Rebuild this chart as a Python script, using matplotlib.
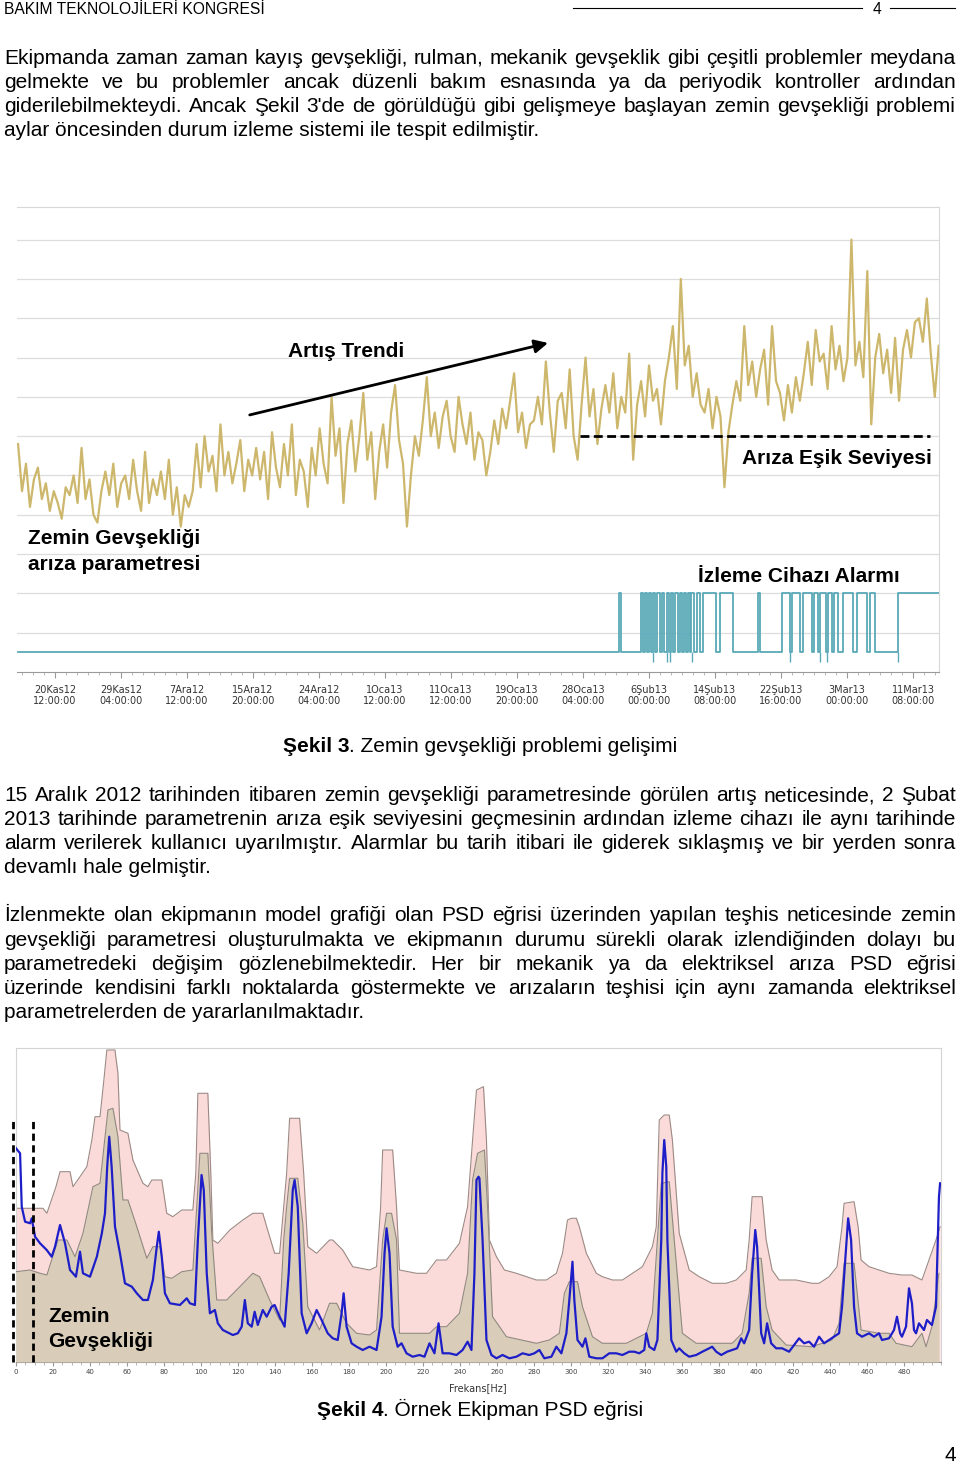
import matplotlib
matplotlib.use("Agg")
import matplotlib.pyplot as plt
from matplotlib.lines import Line2D
from matplotlib.ticker import MultipleLocator
import numpy as np

W, H = 960, 1464

# ---------------- data: Şekil 3 (trend of the loosening parameter) ----------------
trend = [
    5.8, 4.6, 5.3, 4.2, 4.9, 5.2, 4.4, 4.8, 4.1, 4.6,
    4.3, 3.9, 4.7, 4.5, 5.0, 4.3, 5.7, 4.4, 4.9, 4.0,
    3.8, 4.6, 5.1, 4.5, 5.3, 4.2, 4.8, 5.0, 4.4, 5.4,
    4.6, 4.1, 5.6, 4.3, 4.9, 4.5, 5.1, 4.4, 5.4, 4.0,
    4.7, 3.7, 4.5, 4.2, 4.6,
    5.8, 4.7, 6.0, 5.1, 5.5, 4.6, 6.3, 5.0, 5.6, 4.8, 5.3, 5.9, 4.6, 5.4, 5.0, 5.7,
    4.9, 5.6, 4.4, 6.1, 5.2, 4.7, 5.8, 5.0, 6.3, 4.5, 5.4, 5.1, 4.2, 5.7, 5.0, 6.2, 5.3, 4.8,
    7.0, 5.5, 6.2, 4.3, 5.8, 6.4, 5.1, 6.0, 7.1, 5.4, 6.1, 4.4, 5.6, 6.3, 5.2, 6.6, 7.3, 5.9,
    5.3, 3.7, 5.0, 6.0, 5.5, 6.4, 7.5, 6.0,
    6.6, 5.7, 6.5, 6.9, 6.0, 5.6, 7.0, 6.3, 5.8, 6.6, 5.4, 6.1,
    5.9, 5.0, 5.6, 6.4, 5.8, 6.7, 6.2, 6.9, 7.6, 6.1, 6.6, 5.7, 6.3,
    6.4, 7.0, 6.3, 7.9, 6.6, 5.6, 6.9, 7.1, 6.2, 7.7, 6.0, 5.4, 6.8, 8.0, 6.5, 7.2, 5.8, 6.7,
    7.3, 6.6, 7.6, 6.2, 7.0, 6.6, 8.1, 5.4, 6.8, 7.4, 6.5, 7.8, 6.9, 7.2, 6.3,
    7.4, 8.0, 8.8, 7.2, 10.0, 7.8, 8.3, 7.0, 7.6, 6.8,
    6.6, 7.2, 6.2, 7.0, 6.5, 4.7, 6.1, 6.8, 7.4, 6.9,
    8.8, 7.3, 7.9, 7.0, 7.7, 8.2, 6.8, 8.8, 7.4, 7.1,
    6.4, 7.3, 6.6, 7.5, 6.9,
    7.6, 8.4, 7.3, 8.7, 7.9, 8.1, 7.2, 8.8, 7.7, 8.3, 7.4, 8.0,
    11.0, 7.8, 8.4, 7.5, 10.2, 6.3, 8.0, 8.6, 7.6, 8.2, 7.1, 8.5,
    6.9, 8.2, 8.7, 8.0, 8.9, 9.0, 8.4, 9.5, 8.1, 7.0, 8.3,
]
trend_start, trend_end = -0.56, 13.39   # in date-tick units

# alarm "on" periods (date-tick units)
alarm_on = [(8.55, 8.58), (8.88, 8.91), (8.94, 8.97), (9.00, 9.03), (9.06, 9.09),
            (9.12, 9.17), (9.20, 9.23), (9.27, 9.30), (9.33, 9.36), (9.39, 9.44),
            (9.47, 9.50), (9.53, 9.56), (9.59, 9.62), (9.64, 9.68), (9.73, 9.77),
            (9.82, 10.02), (10.08, 10.27), (10.65, 10.68), (11.02, 11.14),
            (11.17, 11.29), (11.33, 11.47), (11.50, 11.56), (11.59, 11.68),
            (11.71, 11.77), (11.80, 11.86), (11.94, 12.09), (12.15, 12.30),
            (12.35, 12.42), (12.77, 13.39)]
alarm_dips = [9.06, 9.27, 9.32, 9.65, 11.14, 11.59, 11.70, 12.77]
alarm_low, alarm_high, alarm_dip = 0.5, 2.0, 0.25
threshold = 6.0

date_labels = ["20Kas12\n12:00:00", "29Kas12\n04:00:00", "7Ara12\n12:00:00",
               "15Ara12\n20:00:00", "24Ara12\n04:00:00", "1Oca13\n12:00:00",
               "11Oca13\n12:00:00", "19Oca13\n20:00:00", "28Oca13\n04:00:00",
               "6Şub13\n00:00:00", "14Şub13\n08:00:00", "22Şub13\n16:00:00",
               "3Mar13\n00:00:00", "11Mar13\n08:00:00"]

# ---------------- data: Şekil 4 (PSD) ----------------
upper_env = [(0, 153.7), (14.6, 153.7), (16.7, 148.7), (21.6, 175.3), (23.8, 190.3), (29.2, 190.3),
             (30.8, 175.3), (34.6, 185.3), (38.3, 195.3), (41.0, 222), (42.7, 245.3), (45.4, 245.3),
             (47.5, 282), (49.1, 312), (53.5, 312), (55.1, 288.7), (56.2, 232), (60.5, 228.7),
             (63.2, 202), (68.6, 178.7), (71.3, 175.3), (73.4, 182), (78.8, 182), (81.5, 148.7),
             (84.8, 145.3), (89.6, 152), (95.6, 152), (97.2, 188.7), (98.3, 268.7), (103.7, 268.7),
             (105.3, 188.7), (106.4, 122), (109.1, 118.7), (115.6, 132), (122.6, 142), (128.0, 148.7),
             (133.4, 148.7), (135.5, 135.3), (139.8, 108.7), (142.5, 108.7), (146.3, 188.7),
             (147.9, 243.7), (153.3, 243.7), (155.5, 188.7), (157.7, 115.3), (162.5, 108.7),
             (169.5, 122), (171.2, 122), (176.6, 112), (182.0, 95.3), (191.1, 92), (194.9, 95.3),
             (197.1, 155.3), (198.2, 212), (203.6, 212), (205.7, 155.3), (207.3, 92), (216.5, 88.7),
             (221.9, 88.7), (227.3, 102), (232.7, 102), (239.7, 118.7), (244.1, 155.3), (246.8, 222),
             (248.9, 272), (252.7, 275.3), (254.3, 222), (255.9, 122), (259.7, 105.3), (264.0, 92),
             (270.5, 88.7), (281.3, 82), (286.7, 82), (292.1, 88.7), (295.4, 108.7), (298.1, 142),
             (300.2, 143.7), (302.9, 143.7), (304.5, 135.3), (308.3, 108.7), (313.7, 88.7),
             (317.0, 85.3), (322.4, 82), (327.8, 82), (333.2, 88.7), (338.6, 95.3), (344.0, 115.3),
             (346.1, 135.3), (347.7, 242), (350.4, 247), (353.1, 247), (354.8, 222), (358.5, 128.7),
             (363.9, 92), (369.3, 85.3), (376.3, 78.7), (383.9, 78.7), (389.3, 82), (394.7, 92),
             (396.3, 122), (397.9, 165.3), (403.3, 165.3), (405.5, 122), (408.7, 92), (412.5, 82),
             (421.7, 82), (430.3, 78.7), (434.1, 78.7), (439.5, 85.3), (443.8, 95.3), (446.5, 135.3),
             (447.6, 158.7), (453.0, 160.3), (455.2, 135.3), (456.8, 102), (461.1, 95.3),
             (471.9, 88.7), (478.9, 87), (484.3, 87), (489.7, 82), (493.5, 102), (497.3, 122),
             (499.5, 135.3)]

lower_env = [(0, 90.3), (7.6, 92), (13.0, 88.7), (16.7, 87), (22.7, 122), (27.5, 122), (31.9, 105.3),
             (36.2, 128.7), (41.6, 175.3), (45.4, 178.7), (49.7, 252), (52.4, 253.7), (55.1, 225.3),
             (57.8, 162), (60.5, 162), (65.3, 135.3), (70.7, 103.7), (74.0, 115.3), (77.8, 115.3),
             (80.5, 85.3), (84.2, 83.7), (89.6, 90.3), (95.6, 92), (97.7, 155.3), (99.4, 208.7),
             (103.7, 208.7), (105.8, 128.7), (108.5, 62), (113.9, 62), (121.0, 75.3), (128.0, 88.7),
             (131.7, 85.3), (137.1, 62), (142.5, 42), (144.7, 122), (146.3, 155.3), (147.9, 183.7),
             (152.3, 183.7), (155.0, 138.7), (157.7, 55.3), (164.1, 32), (169.5, 58.7), (173.3, 58.7),
             (178.7, 38.7), (184.1, 28.7), (191.1, 27), (194.9, 32), (198.2, 122), (200.3, 148.7),
             (203.0, 148.7), (205.7, 122), (207.3, 28.7), (223.5, 28.7), (227.3, 35.3), (232.7, 35.3),
             (239.7, 48.7), (244.1, 88.7), (246.8, 182), (249.5, 208.7), (253.2, 212), (254.9, 155.3),
             (257.6, 45.3), (265.1, 25.3), (281.3, 18.7), (288.3, 22), (293.7, 28.7), (296.4, 68.7),
             (299.1, 80.3), (303.5, 80.3), (306.2, 55.3), (311.6, 25.3), (317.0, 18.7), (329.9, 18.7),
             (340.7, 28.7), (344.0, 48.7), (346.7, 122), (348.8, 178.7), (353.1, 180.3), (355.8, 122),
             (360.2, 28.7), (367.7, 18.7), (387.1, 18.7), (392.5, 28.7), (396.3, 68.7), (397.9, 103.7),
             (402.8, 103.7), (405.5, 55.3), (408.7, 32), (416.3, 17), (430.3, 15.3), (441.1, 22),
             (444.9, 38.7), (447.6, 98.7), (453.0, 98.7), (456.8, 32), (466.5, 28.7), (471.9, 28.7),
             (475.7, 18.7), (484.3, 15.3), (489.7, 28.7), (491.9, 15.3), (495.1, 35.3), (498.9, 88.7)]

psd_curve = [(0, 213.7), (2.2, 208.7), (3.1, 155.3), (4.9, 140.3), (7.6, 138.7), (8.5, 143.7),
             (10.3, 125.3), (13.0, 118.7), (16.6, 112), (19.3, 105.3), (21.1, 115.3), (23.8, 137),
             (26.5, 118.7), (29.2, 92), (32.4, 85.3), (34.6, 110.3), (36.2, 88.7), (40.0, 85.3),
             (43.7, 105.3), (46.4, 128.7), (48.1, 148.7), (49.3, 195.3), (50.4, 225.3), (51.7, 195.3),
             (53.5, 135.3), (56.2, 108.7), (58.9, 78.7), (62.6, 75.3), (65.3, 68.7), (68.6, 62),
             (71.3, 62), (74.0, 82), (76.1, 115.3), (77.2, 130.3), (78.8, 105.3), (80.5, 68.7),
             (83.2, 58.7), (88.6, 57), (92.3, 63.7), (94.0, 58.7), (96.7, 57), (98.3, 122),
             (100.3, 187), (101.5, 172), (103.1, 88.7), (104.8, 48.7), (107.5, 52), (109.1, 38.7),
             (111.8, 32), (117.2, 27), (119.9, 28.7), (122.0, 35.3), (123.7, 62), (125.3, 38.7),
             (127.4, 35.3), (129.0, 50.3), (130.7, 37), (133.4, 52), (135.5, 45.3), (138.2, 55.3),
             (139.8, 57), (142.5, 45.3), (145.2, 35.3), (147.4, 88.7), (149.6, 172), (150.6, 182),
             (152.3, 155.3), (154.4, 48.7), (157.1, 28.7), (159.8, 38.7), (162.5, 52), (165.2, 42),
             (168.5, 28.7), (171.2, 23.7), (173.9, 22), (176.0, 48.7), (177.1, 68.7), (178.7, 35.3),
             (181.4, 18.7), (184.1, 15.3), (187.4, 12), (191.1, 15.3), (194.9, 12), (197.6, 45.3),
             (199.2, 108.7), (200.3, 133.7), (201.9, 108.7), (203.6, 35.3), (206.3, 15.3), (208.4, 18.7),
             (211.1, 8.7), (214.4, 5.3), (218.1, 7), (220.8, 5.3), (223.5, 18.7), (226.2, 8.7),
             (228.4, 38.7), (230.6, 8.7), (234.3, 8.7), (238.1, 7), (241.4, 12), (244.1, 20.3),
             (246.2, 12), (247.8, 88.7), (248.9, 182), (250.0, 185.3), (250.5, 183.7), (252.2, 122),
             (254.3, 22), (257.0, 7), (259.7, 3.7), (263.0, 7), (266.7, 3.7), (270.5, 5.3), (273.8, 8.7),
             (277.5, 7), (280.2, 8.7), (282.9, 12), (285.6, 3.7), (289.4, 5.3), (292.1, 15.3),
             (294.8, 8.7), (297.5, 28.7), (299.1, 62), (300.8, 100.3), (301.8, 62), (303.5, 22),
             (306.2, 15.3), (307.8, 23.7), (309.9, 5.3), (313.7, 3.7), (317.0, 3.7), (320.7, 8.7),
             (324.5, 8.7), (327.8, 7), (331.5, 10.3), (334.2, 10.3), (336.9, 8.7), (339.6, 12),
             (340.7, 28.7), (342.3, 15.3), (345.0, 12), (346.7, 22), (348.8, 122), (349.4, 188.7),
             (350.4, 222), (351.5, 195.3), (352.1, 122), (354.2, 22), (356.9, 10.3), (358.5, 13.7),
             (361.2, 8.7), (363.9, 5.3), (367.7, 7), (371.0, 10.3), (374.7, 13.7), (376.3, 15.3),
             (378.5, 10.3), (381.2, 7), (384.4, 10.3), (387.1, 12), (389.8, 13.7), (392.0, 23.7),
             (393.6, 18.7), (396.3, 32), (397.9, 88.7), (399.6, 132), (400.6, 115.3), (402.8, 28.7),
             (404.4, 18.7), (406.0, 38.7), (408.2, 18.7), (410.9, 13.7), (414.1, 13.7), (417.9, 10.3),
             (420.6, 17), (423.3, 23.7), (426.0, 18.7), (428.7, 20.3), (431.4, 15.3), (434.1, 25.3),
             (436.8, 18.7), (439.5, 22), (442.2, 25.3), (444.9, 28.7), (446.5, 55.3), (448.7, 115.3),
             (449.8, 143.7), (451.4, 122), (453.0, 55.3), (454.6, 28.7), (457.3, 25.3), (461.1, 28.7),
             (463.8, 25.3), (466.5, 28.7), (468.1, 22), (471.9, 23.7), (474.6, 32), (476.2, 45.3),
             (477.9, 28.7), (478.9, 25.3), (481.1, 35.3), (482.7, 73.7), (484.3, 58.7), (485.4, 32),
             (486.5, 28.7), (488.1, 38.7), (490.8, 32), (492.4, 42), (495.1, 37), (497.3, 55.3),
             (498.9, 165.3), (499.5, 178.7)]
loosening_band = (-1.6, 9.2)   # Hz, marked with dashed lines
band_height = 242

# ---------------- page text ----------------
header = "BAKIM TEKNOLOJİLERİ KONGRESİ"
para1 = ["Ekipmanda zaman zaman kayış gevşekliği, rulman, mekanik gevşeklik gibi çeşitli problemler meydana",
         "gelmekte ve bu problemler ancak düzenli bakım esnasında ya da periyodik kontroller ardından",
         "giderilebilmekteydi. Ancak Şekil 3'de de görüldüğü gibi gelişmeye başlayan zemin gevşekliği problemi",
         "aylar öncesinden durum izleme sistemi ile tespit edilmiştir."]
para2 = ["15 Aralık 2012 tarihinden itibaren zemin gevşekliği parametresinde görülen artış neticesinde, 2 Şubat",
         "2013 tarihinde parametrenin arıza eşik seviyesini geçmesinin ardından izleme cihazı ile aynı tarihinde",
         "alarm verilerek kullanıcı uyarılmıştır. Alarmlar bu tarih itibari ile giderek sıklaşmış ve bir yerden sonra",
         "devamlı hale gelmiştir."]
para3 = ["İzlenmekte olan ekipmanın model grafiği olan PSD eğrisi üzerinden yapılan teşhis neticesinde zemin",
         "gevşekliği parametresi oluşturulmakta ve ekipmanın durumu sürekli olarak izlendiğinden dolayı bu",
         "parametredeki değişim gözlenebilmektedir. Her bir mekanik ya da elektriksel arıza PSD eğrisi",
         "üzerinde kendisini farklı noktalarda göstermekte ve arızaların teşhisi için aynı zamanda elektriksel",
         "parametrelerden de yararlanılmaktadır."]

plt.rcParams['font.family'] = ['Liberation Sans', 'DejaVu Sans']
fig = plt.figure(figsize=(9.6, 14.64), dpi=100)
renderer = fig.canvas.get_renderer()


def fx(x):
    return x / W


def fy(y):
    return 1 - y / H


def text_w(s, **kw):
    t = fig.text(0, 0, s, **kw)
    w = t.get_window_extent(renderer).width
    t.remove()
    return w


fs = 10 * 538 / text_w(para1[-1], fontsize=10)


def put_line(s, y, justify=True, x0=4, x1=956):
    if not justify:
        fig.text(fx(x0), fy(y + 6), s, fontsize=fs, va='baseline')
        return
    words = s.split(' ')
    widths = [text_w(w, fontsize=fs) for w in words]
    gap = (x1 - x0 - sum(widths)) / (len(words) - 1)
    x = x0
    for w, wd in zip(words, widths):
        fig.text(fx(x), fy(y + 6), w, fontsize=fs, va='baseline')
        x += wd + gap


def mixed(parts, cx, y):
    widths = [text_w(s, fontsize=fs, fontweight=wt) for s, wt in parts]
    x = cx - sum(widths) / 2
    for (s, wt), wd in zip(parts, widths):
        fig.text(fx(x), fy(y + 6), s, fontsize=fs, fontweight=wt, va='baseline')
        x += wd


# header
hfam = ['Liberation Sans Narrow', 'Liberation Sans']
hs = 10 * 261 / text_w(header, fontsize=10, family=hfam)
fig.text(fx(4), fy(14), header, fontsize=hs, family=hfam, va='baseline')
fig.add_artist(Line2D([fx(573), fx(862)], [fy(8), fy(8)], color='black', lw=0.8))
fig.add_artist(Line2D([fx(890), fx(955)], [fy(8), fy(8)], color='black', lw=0.8))
fig.text(fx(877), fy(14), "4", fontsize=hs, va='baseline', ha='center')

# paragraphs
for lines, ys in [(para1, [58, 82, 106, 130]),
                  (para2, [795, 819, 843, 867]),
                  (para3, [915, 940, 964, 988, 1012])]:
    for i, (s, y) in enumerate(zip(lines, ys)):
        put_line(s, y, justify=(i < len(lines) - 1))

# ---------------- Şekil 3 ----------------
ax1 = fig.add_axes([fx(17), fy(672), (939 - 17) / W, (672 - 207) / H])
ax1.set_xlim(-0.576, 13.394)
ax1.set_ylim(0, 11.83)
for g in range(1, 12):
    ax1.axhline(g, color='#dddddd', lw=0.9, zorder=0)
for side in ['top', 'right']:
    ax1.spines[side].set_color('#d8d8d8')
ax1.spines['left'].set_visible(False)
ax1.spines['bottom'].set_color('#9a9a9a')
ax1.set_yticks([])

trend_x = np.linspace(trend_start, trend_end, len(trend))
ax1.plot(trend_x, trend, color='#cdb76c', lw=1.6, zorder=2)

ax_x = [trend_start]
ax_y = [alarm_low]
for a, b in alarm_on:
    ax_x += [a, a, b, b]
    ax_y += [alarm_low, alarm_high, alarm_high, alarm_low]
if ax_x[-1] >= trend_end:
    ax_x, ax_y = ax_x[:-1], ax_y[:-1]
else:
    ax_x.append(trend_end)
    ax_y.append(alarm_low)
ax1.plot(ax_x, ax_y, color='#5aa9b8', lw=1.3, zorder=2)
ax1.vlines(alarm_dips, alarm_dip, alarm_low, colors='#5aa9b8', lw=1.0, zorder=2)

ax1.hlines(threshold, 7.95, 13.26, colors='black', linestyles=(0, (3.2, 1.6)), lw=2.0, zorder=3)
ax1.annotate('', xy=(7.47, 8.37), xytext=(2.95, 6.54),
             arrowprops=dict(arrowstyle='-|>', color='black', lw=2, mutation_scale=20,
                             shrinkA=0, shrinkB=0))

ax1.set_xticks(range(len(date_labels)))
ax1.set_xticklabels(date_labels, fontsize=7, family='DejaVu Sans', color='#333333', linespacing=1.15)
ax1.xaxis.set_minor_locator(MultipleLocator(1 / 6))
ax1.tick_params(axis='x', which='major', direction='out', length=4, color='#999999', pad=5)
ax1.tick_params(axis='x', which='minor', direction='out', length=2.5, color='#aaaaaa')

fig.text(fx(346), fy(357), "Artış Trendi", fontsize=fs, fontweight='bold', ha='center', va='baseline')
fig.text(fx(932), fy(464), "Arıza Eşik Seviyesi", fontsize=fs, fontweight='bold', ha='right', va='baseline')
fig.text(fx(28), fy(544), "Zemin Gevşekliği", fontsize=fs, fontweight='bold', va='baseline')
fig.text(fx(28), fy(570), "arıza parametresi", fontsize=fs, fontweight='bold', va='baseline')
fig.text(fx(698), fy(582), "İzleme Cihazı Alarmı", fontsize=fs, fontweight='bold', va='baseline')

mixed([("Şekil 3", 'bold'), (". Zemin gevşekliği problemi gelişimi", 'normal')], 480, 746)

# ---------------- Şekil 4 ----------------
ax2 = fig.add_axes([fx(16), fy(1362), (941 - 16) / W, (1362 - 1048) / H])
ax2.set_xlim(0, 500)
ax2.set_ylim(0, 314)
uh, ua = zip(*upper_env)
lh, la = zip(*lower_env)
ph, pa = zip(*psd_curve)
ax2.fill_between(uh, 0, ua, color='#fbdada', lw=0, zorder=1)
ax2.plot(uh, ua, color='#9c8a84', lw=0.8, zorder=2)
ax2.fill_between(lh, 0, la, color='#d9cdb9', lw=0, zorder=3)
ax2.plot(lh, la, color='#8f8a80', lw=0.8, zorder=4)
ax2.plot(ph, pa, color='#1e1ec8', lw=1.6, zorder=5)
ax2.vlines(loosening_band, 0, band_height, colors='black', linestyles=(0, (2.6, 1.6)),
           lw=2.0, clip_on=False, zorder=6)

for side in ['top', 'right', 'left']:
    ax2.spines[side].set_color('#d4d4d4')
ax2.spines['bottom'].set_color('#8a8a8a')
ax2.set_yticks([])
ax2.set_xticks(range(0, 481, 20))
ax2.set_xticklabels([str(v) for v in range(0, 481, 20)], fontsize=5, family='DejaVu Sans', color='#444444')
ax2.xaxis.set_minor_locator(MultipleLocator(5))
ax2.tick_params(axis='x', which='major', direction='out', length=3, color='#999999', pad=2)
ax2.tick_params(axis='x', which='minor', direction='out', length=2, color='#aaaaaa')

fig.text(fx(478), fy(1388), "Frekans[Hz]", fontsize=7, family='DejaVu Sans', color='#333333',
         ha='center', va='center')
fig.text(fx(48), fy(1322), "Zemin", fontsize=fs, fontweight='bold', va='baseline', zorder=10)
fig.text(fx(48), fy(1347), "Gevşekliği", fontsize=fs, fontweight='bold', va='baseline', zorder=10)

mixed([("Şekil 4", 'bold'), (". Örnek Ekipman PSD eğrisi", 'normal')], 480, 1410)

fig.text(fx(950), fy(1461), "4", fontsize=fs, ha='center', va='baseline')

fig.savefig("out.png", dpi=100)
